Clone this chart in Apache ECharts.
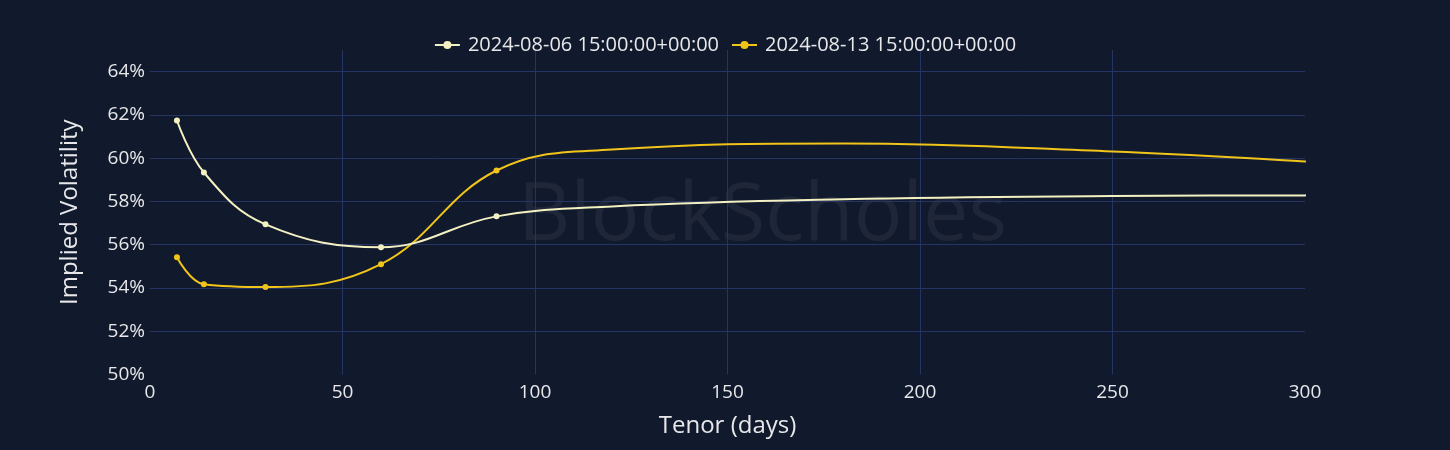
<!DOCTYPE html>
<html><head><meta charset="utf-8">
<script src="https://cdn.jsdelivr.net/npm/echarts@6/dist/echarts.min.js"></script>
<style>html,body{margin:0;padding:0;background:#111a2d;}#c{width:1450px;height:450px;}</style>
</head><body><div id="c"></div>
<script>
const seriesNames = ['2024-08-06 15:00:00+00:00', '2024-08-13 15:00:00+00:00'];
const tenors = [7, 14, 30, 60, 90, 120, 180, 250, 300, 365];
const markedCount = 5; // tenors with visible markers
const volAug06 = [61.74, 59.34, 56.94, 55.88, 57.31, 57.77, 58.1, 58.25, 58.28, 58.3];
const volAug13 = [55.42, 54.17, 54.04, 55.10, 59.43, 60.4, 60.68, 60.31, 59.85, 59.2];
const yTicks = [50, 52, 54, 56, 58, 60, 62, 64];
const xTicks = [0, 50, 100, 150, 200, 250, 300];

const colors = ['#f3f0c2', '#f0c419'];
const font = '"Open Sans", "Noto Sans", sans-serif';

function build(vals) {
  return tenors.map((t, i) => i < markedCount ? [t, vals[i]] : {value: [t, vals[i]], symbol: 'none'});
}

const chart = echarts.init(document.getElementById('c'), null, {renderer: 'canvas'});
chart.setOption({
  backgroundColor: '#111a2d',
  animation: false,
  graphic: [{
    type: 'text', left: 518, top: 176, z: 0,
    style: {text: 'BlockScholes', fontSize: 81, fontFamily: font, fill: 'rgba(255,255,255,0.055)'}
  }],
  legend: {
    top: 30, left: 'center', itemGap: 12, itemWidth: 25, itemHeight: 10,
    textStyle: {color: '#e8e8ea', fontSize: 20, fontFamily: font, padding: [0, 0, 0, 3]},
    data: seriesNames
  },
  grid: {left: 150, right: 145, top: 50, bottom: 75.5},
  xAxis: {
    type: 'value', min: xTicks[0], max: xTicks[xTicks.length - 1], interval: 50,
    name: 'Tenor (days)', nameLocation: 'middle', nameGap: 40,
    nameTextStyle: {color: '#e8e8ea', fontSize: 24, fontFamily: font},
    axisLine: {show: false}, axisTick: {show: false},
    axisLabel: {color: '#e8e8ea', fontSize: 19, fontFamily: font, margin: 9},
    splitLine: {show: true, showMinLine: false, showMaxLine: false, lineStyle: {color: '#253463', width: 1}}
  },
  yAxis: {
    type: 'value', min: yTicks[0], max: 65, interval: 2,
    name: 'Implied Volatility', nameLocation: 'middle', nameGap: 68,
    nameTextStyle: {color: '#e8e8ea', fontSize: 24, fontFamily: font},
    axisLine: {show: false}, axisTick: {show: false},
    axisLabel: {color: '#e8e8ea', fontSize: 19, fontFamily: font, margin: 5, showMaxLabel: false,
      formatter: v => yTicks.includes(v) ? v + '%' : ''},
    splitLine: {show: true, showMinLine: false, showMaxLine: false, lineStyle: {color: '#253463', width: 1}}
  },
  series: [
    {name: seriesNames[0], type: 'line', smooth: 0.4, data: build(volAug06),
     symbol: 'circle', symbolSize: 6, showSymbol: true, z: 3,
     lineStyle: {color: colors[0], width: 2}, itemStyle: {color: colors[0]}},
    {name: seriesNames[1], type: 'line', smooth: 0.4, data: build(volAug13),
     symbol: 'circle', symbolSize: 6, showSymbol: true, z: 2,
     lineStyle: {color: colors[1], width: 2}, itemStyle: {color: colors[1]}}
  ]
});
</script></body></html>
